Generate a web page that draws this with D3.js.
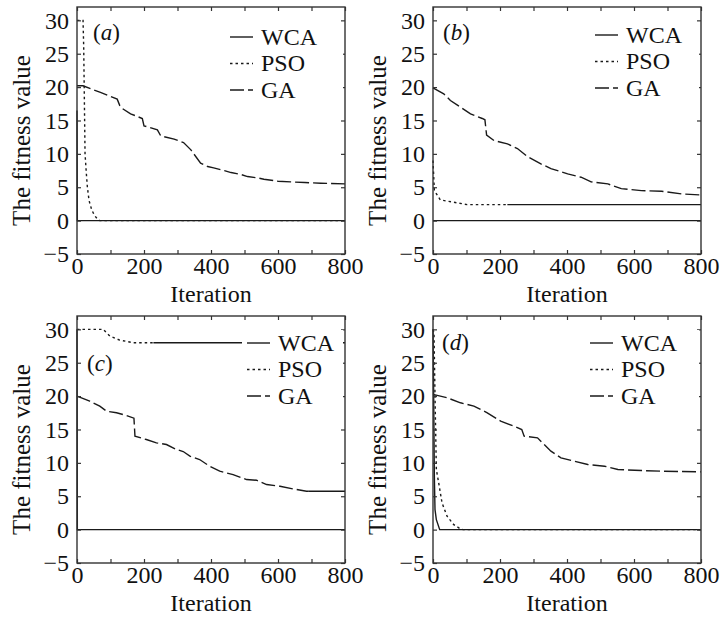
<!DOCTYPE html>
<html>
<head>
<meta charset="utf-8">
<script src="https://cdn.jsdelivr.net/npm/d3@7"></script>
<style>
  body { margin: 0; background: #fff; }
  svg { display: block; }
  svg text { font-family: "Liberation Serif", "Times New Roman", serif; }
</style>
</head>
<body>
<svg width="720" height="623"></svg>
<script>
// tick values and names
let iterTicks = [0, 100, 200, 300, 400, 500, 600, 700, 800]
let fitTicks = [-5, 0, 5, 10, 15, 20, 25, 30]
let seriesNames = ["WCA", "PSO", "GA"]
let panelLetters = ["a", "b", "c", "d"]

// (a): [iteration, fitness]
let wcaA = [[0, 16.5], [1, 0], [800, 0]]
let psoA = [[0, 30], [18, 30], [20, 26], [22, 18], [24, 10], [28, 7], [31, 5], [36, 3], [44, 1.6], [52, 0.8], [60, 0.3], [68, 0], [800, 0]]
let gaA = [[0, 20.2], [18, 20.2], [44, 19.7], [70, 19.2], [100, 18.6], [120, 18.2], [128, 17.2], [135, 16.8], [160, 16], [195, 15.3], [200, 14.2], [240, 13.6], [250, 12.7], [290, 12.2], [318, 11.7], [340, 10.6], [369, 8.6], [390, 8.1], [408, 7.9], [440, 7.5], [460, 7.2], [490, 6.9], [509, 6.6], [540, 6.4], [558, 6.2], [600, 5.9], [638, 5.8], [680, 5.7], [728, 5.6], [800, 5.5]]

// (b)
let wcaB = [[0, 0], [800, 0]]
let psoB = [[0, 9], [4, 4.5], [22, 3.1], [62, 2.75], [102, 2.4], [800, 2.4]]
let gaB = [[0, 19.9], [32, 19], [52, 18], [82, 17], [112, 16], [147, 15.3], [155, 15.1], [160, 12.8], [182, 12], [222, 11.5], [252, 10.8], [282, 9.6], [322, 8.5], [352, 7.8], [402, 7], [442, 6.5], [472, 5.8], [522, 5.5], [562, 4.8], [622, 4.5], [682, 4.4], [742, 4], [800, 3.85]]

// (c)
let wcaC = [[0, 30], [1, 0], [800, 0]]
let psoC = [[0, 30], [78, 30], [98, 29], [127, 28.4], [167, 28], [800, 28]]
let gaC = [[0, 20], [38, 19.25], [68, 18.5], [88, 17.75], [118, 17.5], [147, 17.1], [170, 16.7], [173, 14], [207, 13.5], [237, 13], [267, 12.75], [297, 12], [317, 11.7], [337, 11], [366, 10.5], [396, 9.5], [426, 8.75], [466, 8.25], [506, 7.5], [536, 7.4], [566, 6.75], [606, 6.5], [645, 6.1], [685, 5.75], [800, 5.75]]

// (d)
let wcaD = [[0, 30], [2, 20], [4, 8], [6, 3], [10, 1.5], [20, 0], [800, 0]]
let psoD = [[0, 30], [3, 29.5], [6, 20], [10, 9], [17, 7], [27, 4], [42, 2], [62, 0.75], [82, 0.1], [90, 0], [800, 0]]
let gaD = [[0, 20.25], [42, 19.75], [82, 19], [122, 18.5], [162, 17.5], [202, 16.25], [242, 15.5], [265, 15], [272, 14], [312, 13.75], [332, 12.75], [352, 11.75], [382, 10.75], [422, 10.25], [462, 9.75], [512, 9.5], [552, 9], [622, 8.85], [682, 8.75], [800, 8.65]]

// layout
let svg = d3.select("svg")
let plotW = 268
let plotH = 247
let font = "'Liberation Serif', 'Times New Roman', serif"
let dashes = { WCA: null, PSO: "2.5,3", GA: "14,4" }

let panels = [
  { x: 77, y: 7, data: [wcaA, psoA, gaA], legend: [153, 30], label: [16, 33], solid: {} },
  { x: 433, y: 7, data: [wcaB, psoB, gaB], legend: [162, 28], label: [10, 33], solid: { PSO: 222 } },
  { x: 77, y: 316, data: [wcaC, psoC, gaC], legend: [170, 27], label: [10, 55], solid: { PSO: 228, GA: 690 } },
  { x: 433, y: 316, data: [wcaD, psoD, gaD], legend: [157, 27], label: [9, 34], solid: {} }
]

// split a series at iteration s so the tail can be drawn solid
let splitAt = function(points, s) {
  let head = points.filter(p => p[0] <= s)
  let tail = points.filter(p => p[0] >= s)
  let i = points.findIndex(p => p[0] > s)
  if (i > 0) {
    let a = points[i - 1], b = points[i]
    let v = a[1] + (b[1] - a[1]) * (s - a[0]) / (b[0] - a[0])
    head.push([s, v])
    tail.unshift([s, v])
  }
  return [head, tail]
}

let drawPanel = function(p, idx) {
  let g = svg.append("g").attr("transform", "translate(" + p.x + "," + p.y + ")")

  let xScale = d3.scaleLinear().domain([0, 800]).range([0, plotW])
  let yScale = d3.scaleLinear().domain([-5, 32]).range([plotH, 0])

  let line = d3.line()
               .x(d => xScale(d[0]))
               .y(d => yScale(d[1]))

  // series lines
  p.data.forEach((series, k) => {
    let name = seriesNames[k]
    let s = p.solid[name]
    let parts = s !== undefined ? splitAt(series, s) : [series, []]
    g.append("path")
     .attr("d", line(parts[0]))
     .attr("fill", "none")
     .attr("stroke", "#1a1a1a")
     .attr("stroke-width", 1.4)
     .attr("stroke-dasharray", dashes[name])
    if (parts[1].length) {
      g.append("path")
       .attr("d", line(parts[1]))
       .attr("fill", "none")
       .attr("stroke", "#1a1a1a")
       .attr("stroke-width", 1.4)
    }
  })

  // axes with inward ticks
  let xAxis = d3.axisBottom(xScale).tickValues(iterTicks).tickSize(-4).tickPadding(3)
                .tickFormat(d => d % 200 === 0 ? d : "")
  let xTop = d3.axisTop(xScale).tickValues(iterTicks).tickSize(-4).tickFormat("")
  let yAxis = d3.axisLeft(yScale).tickValues(fitTicks).tickSize(-4).tickPadding(8)
  let yRight = d3.axisRight(yScale).tickValues(fitTicks).tickSize(-4).tickFormat("")

  let axes = [
    g.append("g").attr("transform", "translate(0," + plotH + ")").call(xAxis),
    g.append("g").call(xTop),
    g.append("g").call(yAxis),
    g.append("g").attr("transform", "translate(" + plotW + ",0)").call(yRight)
  ]
  axes.forEach(a => {
    a.attr("font-family", font).attr("font-size", 24)
    a.select(".domain").remove()
    a.selectAll("line").attr("stroke", "#333").attr("stroke-width", 1.2)
    a.selectAll("text").attr("fill", "#111")
  })

  // legend with white background
  let lx = p.legend[0], ly = p.legend[1]
  let rowGap = 26.5
  g.append("rect")
   .attr("x", lx - 5).attr("y", ly - 13)
   .attr("width", plotW - 2 - (lx - 5)).attr("height", rowGap * 2 + 26)
   .attr("fill", "#fff")
  seriesNames.forEach((name, k) => {
    let yy = ly + k * rowGap
    g.append("line")
     .attr("x1", lx).attr("x2", lx + 23)
     .attr("y1", yy).attr("y2", yy)
     .attr("stroke", "#1a1a1a").attr("stroke-width", 1.4)
     .attr("stroke-dasharray", dashes[name])
    g.append("text")
     .attr("x", lx + 31).attr("y", yy)
     .attr("dy", "0.33em")
     .attr("font-family", font).attr("font-size", 24)
     .attr("fill", "#111")
     .text(name)
  })

  // frame
  g.append("rect")
   .attr("width", plotW).attr("height", plotH)
   .attr("fill", "none").attr("stroke", "#333").attr("stroke-width", 1.4)

  // panel label
  let lab = g.append("text")
             .attr("x", p.label[0]).attr("y", p.label[1])
             .attr("font-family", font).attr("font-size", 23).attr("fill", "#111")
  lab.append("tspan").text("(")
  lab.append("tspan").attr("font-style", "italic").text(panelLetters[idx])
  lab.append("tspan").text(")")

  // axis titles
  g.append("text")
   .attr("transform", "translate(-56," + (plotH / 2 + 10) + ") rotate(-90)")
   .attr("text-anchor", "middle")
   .attr("dy", "0.35em")
   .attr("font-family", font).attr("font-size", 25).attr("fill", "#111")
   .text("The fitness value")

  g.append("text")
   .attr("x", plotW / 2).attr("y", plotH + 48)
   .attr("text-anchor", "middle")
   .attr("font-family", font).attr("font-size", 24).attr("fill", "#111")
   .text("Iteration")
}

panels.forEach(drawPanel)
</script>
</body>
</html>
